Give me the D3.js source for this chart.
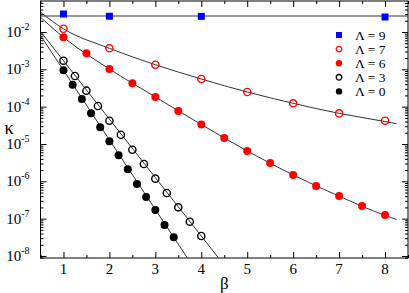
<!DOCTYPE html>
<html>
<head>
<meta charset="utf-8">
<script src="https://cdn.jsdelivr.net/npm/d3@7"></script>
<style>
  body { margin: 0; background: #fff; }
  text { font-family: "Liberation Serif", "Times New Roman", serif; fill: #000; }
</style>
</head>
<body>
<div id="chart"></div>
<script>
// DATA
const betaL9 = [1, 2, 4, 8];
const kappaL9 = [0.0303, 0.0264, 0.0262, 0.0252];

const betaL7 = [1, 2, 3, 4, 5, 6, 7, 8];
const kappaL7 = [1.22e-2, 3.66e-3, 1.33e-3, 5.5e-4, 2.47e-4, 1.23e-4, 6.6e-5, 4.2e-5];

const betaL6 = [1, 1.5, 2, 2.5, 3, 3.5, 4, 4.5, 5, 5.5, 6, 6.5, 7, 7.5, 8];
const kappaL6 = [7.2e-3, 2.69e-3, 1.02e-3, 4.23e-4, 1.82e-4, 7.66e-5, 3.33e-5, 1.45e-5,
                 6.48e-6, 3.10e-6, 1.48e-6, 7.49e-7, 4.05e-7, 2.18e-7, 1.25e-7];

const betaL3 = [1, 1.25, 1.5, 1.75, 2, 2.25, 2.5, 2.75, 3, 3.25, 3.5, 3.75, 4];
const kappaL3 = [1.70e-3, 6.62e-4, 2.68e-4, 1.04e-4, 4.21e-5, 1.77e-5, 7.03e-6, 2.91e-6,
                 1.18e-6, 4.86e-7, 2.01e-7, 8.28e-8, 3.43e-8];

const betaL0 = [1, 1.2, 1.4, 1.6, 1.8, 2, 2.2, 2.4, 2.6, 2.8, 3, 3.2, 3.4];
const kappaL0 = [9.42e-4, 3.87e-4, 1.60e-4, 6.64e-5, 2.80e-5, 1.18e-5, 4.98e-6, 2.10e-6,
                 8.48e-7, 3.80e-7, 1.71e-7, 6.76e-8, 3.16e-8];

// fit curves (nodes)
const fitBetaL9 = [0.5, 8.5];
const fitKappaL9 = [0.0268, 0.0268];
const fitBetaL7 = [0.5, 1, 2, 3, 4, 5, 6, 7, 8, 8.25];
const fitKappaL7 = [0.0337, 1.22e-2, 3.66e-3, 1.33e-3, 5.5e-4, 2.47e-4, 1.23e-4, 6.6e-5, 4.0e-5, 3.5e-5];
const fitBetaL6 = [0.5, 1, 2, 3, 4, 5, 6, 7, 8, 8.25];
const fitKappaL6 = [0.0248, 7.2e-3, 1.02e-3, 1.82e-4, 3.33e-5, 6.5e-6, 1.48e-6, 4.0e-7, 1.22e-7, 9.5e-8];
const fitBetaL3 = [0.5, 4.5];
const fitKappaL3 = [0.0103, 5.65e-9];
const fitBetaL0 = [0.5, 3.8];
const fitKappaL0 = [8.05e-3, 5.7e-9];

const legendLabels = ["\u039b = 9", "\u039b = 7", "\u039b = 6", "\u039b = 3", "\u039b = 0"];
const xTicks = [1, 2, 3, 4, 5, 6, 7, 8];
const yExponents = [-8, -7, -6, -5, -4, -3, -2];

const W = 409, H = 293;
const margin = {top: 1, right: 1, bottom: 35, left: 40.5};
const width = W - margin.left - margin.right;
const height = H - margin.top - margin.bottom;

const svg = d3.select("#chart").append("svg")
  .attr("width", W).attr("height", H);

const g = svg.append("g")
  .attr("transform", "translate(" + margin.left + "," + margin.top + ")");

// SCALES
const xScale = d3.scaleLinear().domain([0.5, 8.5]).range([0, width]);
const yScale = d3.scaleLog().domain([Math.pow(10, -8.054), Math.pow(10, -1.17)]).range([height, 0]);

g.append("clipPath").attr("id", "clip")
  .append("rect").attr("width", width).attr("height", height);

// AXES (ticks pointing inward, on all four sides)
const minorX = d3.range(0.5, 8.51, 0.5).filter(d => d % 1 !== 0);
const minorY = [];
for (let e = -9; e <= -2; e++) {
  for (let k = 2; k <= 9; k++) {
    const v = k * Math.pow(10, e);
    if (v > yScale.domain()[0] && v < yScale.domain()[1]) minorY.push(v);
  }
}
const majorY = yExponents.map(e => Math.pow(10, e));

function drawAxis(axisFn, scale, values, size, transform) {
  const a = g.append("g").attr("transform", transform || null)
    .call(axisFn(scale).tickValues(values).tickSize(size).tickFormat(""));
  a.select(".domain").remove();
  a.selectAll("line").attr("stroke", "#000");
  return a;
}

// bottom
drawAxis(d3.axisBottom, xScale, xTicks, -6, "translate(0," + height + ")");
drawAxis(d3.axisBottom, xScale, minorX, -3, "translate(0," + height + ")");
// top
drawAxis(d3.axisTop, xScale, xTicks, -6);
drawAxis(d3.axisTop, xScale, minorX, -3);
// left
drawAxis(d3.axisLeft, yScale, majorY, -6);
drawAxis(d3.axisLeft, yScale, minorY, -3);
// right
drawAxis(d3.axisRight, yScale, majorY, -6, "translate(" + width + ",0)");
drawAxis(d3.axisRight, yScale, minorY, -3, "translate(" + width + ",0)");

// frame
g.append("rect").attr("width", width).attr("height", height)
  .attr("fill", "none").attr("stroke", "#000").attr("stroke-width", 1);

// tick labels
g.selectAll(".xlab").data(xTicks).enter().append("text")
  .attr("x", d => xScale(d)).attr("y", height + 16)
  .attr("text-anchor", "middle").style("font-size", "15px")
  .text(d => d);

const yl = g.selectAll(".ylab").data(yExponents).enter().append("text")
  .attr("x", -11).attr("y", d => yScale(Math.pow(10, d)) + 5)
  .attr("text-anchor", "end").style("font-size", "15px");
yl.append("tspan").text("10");
yl.append("tspan").attr("dy", -7).style("font-size", "10px").text(d => "-" + (-d));

// axis titles
svg.append("text").attr("x", margin.left + xScale(4.5)).attr("y", 289)
  .attr("text-anchor", "middle").style("font-size", "17px").text("\u03b2");
svg.append("text").attr("x", 9).attr("y", 134)
  .attr("text-anchor", "middle").style("font-size", "18px").text("\u03ba");

// FIT LINES
const line = d3.line().x(d => xScale(d[0])).y(d => yScale(d[1])).curve(d3.curveMonotoneX);
const fits = [
  [fitBetaL9, fitKappaL9], [fitBetaL7, fitKappaL7], [fitBetaL6, fitKappaL6],
  [fitBetaL3, fitKappaL3], [fitBetaL0, fitKappaL0]
];
g.append("g").attr("clip-path", "url(#clip)")
  .selectAll("path").data(fits).enter().append("path")
  .attr("d", d => line(d[0].map((b, i) => [b, d[1][i]])))
  .attr("fill", "none").attr("stroke", "#333").attr("stroke-width", 1);

// POINTS
const pts = g.append("g");
function zip(bs, ks) { return bs.map((b, i) => [b, ks[i]]); }

pts.selectAll(".sq").data(zip(betaL9, kappaL9)).enter().append("rect")
  .attr("x", d => xScale(d[0]) - 3.5).attr("y", d => yScale(d[1]) - 3.5)
  .attr("width", 7).attr("height", 7).attr("fill", "#0000ff");

function circles(data, color, open) {
  pts.append("g").selectAll("circle").data(data).enter().append("circle")
    .attr("cx", d => xScale(d[0])).attr("cy", d => yScale(d[1]))
    .attr("r", open ? 3.6 : 4)
    .attr("fill", open ? "none" : color)
    .attr("stroke", color).attr("stroke-width", open ? 1.4 : 0);
}
circles(zip(betaL7, kappaL7), "#ff0000", true);
circles(zip(betaL6, kappaL6), "#ff0000", false);
circles(zip(betaL3, kappaL3), "#000", true);
circles(zip(betaL0, kappaL0), "#000", false);

// LEGEND
const legend = svg.append("g").attr("transform", "translate(339,35)");
const rows = legend.selectAll("g").data(legendLabels).enter().append("g")
  .attr("transform", (d, i) => "translate(0," + i * 14.1 + ")");
rows.each(function (d, i) {
  const r = d3.select(this);
  if (i === 0) {
    r.append("rect").attr("x", -3).attr("y", -3).attr("width", 6).attr("height", 6).attr("fill", "#0000ff");
  } else {
    const color = i <= 2 ? "#ff0000" : "#000";
    const open = i === 1 || i === 3;
    r.append("circle").attr("r", open ? 2.8 : 3.2)
      .attr("fill", open ? "none" : color).attr("stroke", color).attr("stroke-width", open ? 1.3 : 0);
  }
});
rows.append("text").attr("x", 16).attr("y", 4.5).style("font-size", "13.5px").text(d => d);
</script>
</body>
</html>
